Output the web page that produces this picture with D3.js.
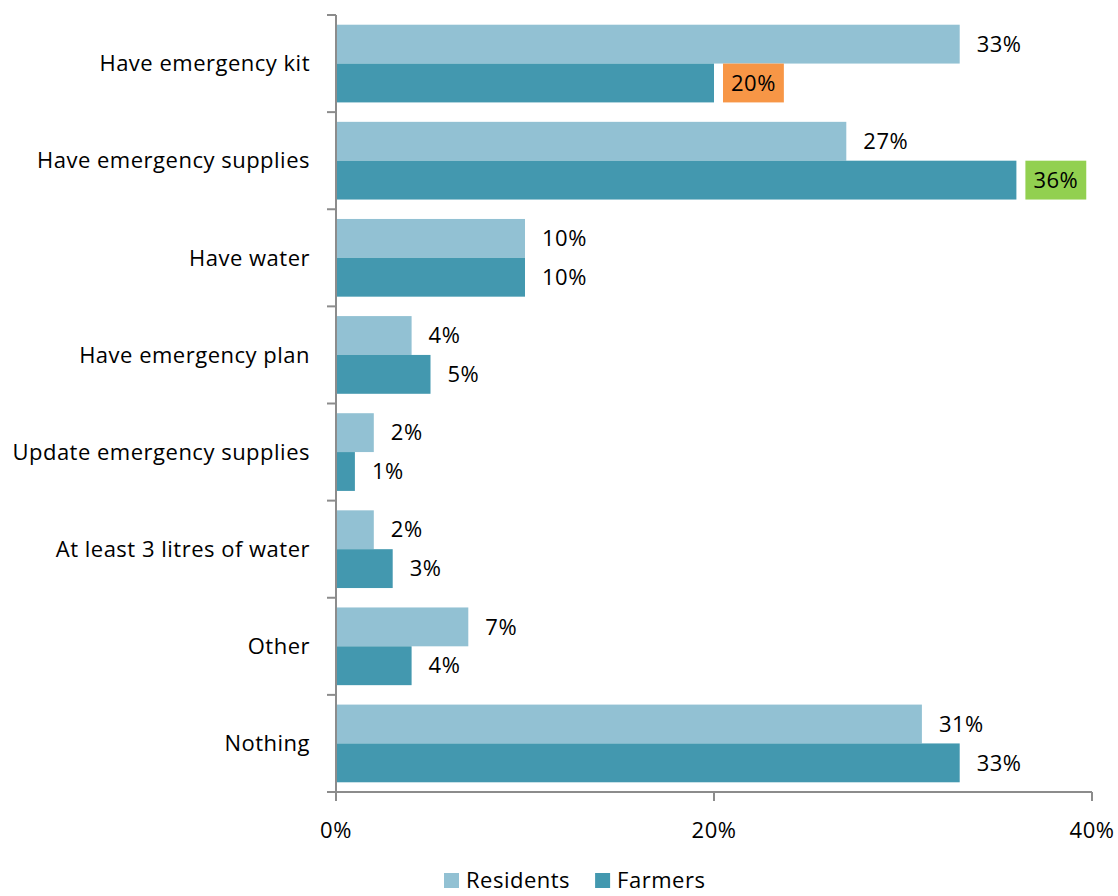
<!DOCTYPE html>
<html>
<head>
<meta charset="utf-8">
<script src="https://cdn.jsdelivr.net/npm/d3@7"></script>
<style>
  html, body { margin: 0; padding: 0; background: #fff; }
  svg text { font-family: "Open Sans", "Noto Sans", sans-serif; fill: #000; letter-spacing: 0.5px; }
</style>
</head>
<body>
<svg id="chart" width="1118" height="896"></svg>
<script>
// Emergency preparedness: share of respondents by action
const categories = [
  "Have emergency kit",
  "Have emergency supplies",
  "Have water",
  "Have emergency plan",
  "Update emergency supplies",
  "At least 3 litres of water",
  "Other",
  "Nothing"
];
const residents = [33, 27, 10, 4, 2, 2, 7, 31];
const farmers   = [20, 36, 10, 5, 1, 3, 4, 33];
const seriesNames = ["Residents", "Farmers"];
const xTicks = [0, 20, 40];
// Highlighted value labels (series index, category index, fill)
const highlights = [
  { s: 1, c: 0, fill: "#F79646" },
  { s: 1, c: 1, fill: "#92D050" }
];

const colors = ["#92C1D3", "#4398AF"];
const svg = d3.select("#chart");
const fontSize = 22;

const x = d3.scaleLinear().domain([0, 40]).range([336, 1092]);
const y = d3.scaleBand().domain(categories).range([15, 792])
  .paddingInner(0.2).paddingOuter(0.1);
const sub = d3.scaleBand().domain([0, 1]).range([0, y.bandwidth()]);

const rows = categories.map((c, i) => ({ c, i, vals: [residents[i], farmers[i]] }));

// Bars
const g = svg.append("g");
rows.forEach(r => {
  r.vals.forEach((v, s) => {
    g.append("rect")
      .attr("x", x(0))
      .attr("y", y(r.c) + sub(s))
      .attr("width", x(v) - x(0))
      .attr("height", sub.bandwidth())
      .attr("fill", colors[s]);
  });
});

// Value labels
rows.forEach(r => {
  r.vals.forEach((v, s) => {
    const cy = y(r.c) + sub(s) + sub.bandwidth() / 2;
    const tx = x(v) + 17;
    const hl = highlights.find(h => h.s === s && h.c === r.i);
    const t = svg.append("text")
      .attr("x", tx)
      .attr("y", cy)
      .attr("dy", "0.35em")
      .attr("font-size", fontSize)
      .text(v + "%");
    if (hl) {
      const w = t.node().getComputedTextLength();
      svg.insert("rect", "text")
        .attr("x", tx - 8)
        .attr("y", y(r.c) + sub(s))
        .attr("width", w + 16)
        .attr("height", sub.bandwidth())
        .attr("fill", hl.fill);
    }
  });
});

// Axes
const axisColor = "#8C8C8C";
const step = y.step();
const y0 = 15;
const axG = svg.append("g").attr("stroke", axisColor).attr("stroke-width", 2).attr("fill", "none");
axG.append("line").attr("x1", x(0)).attr("x2", x(0)).attr("y1", y0).attr("y2", 792);
for (let i = 0; i <= categories.length; i++) {
  const yy = y0 + i * step;
  axG.append("line").attr("x1", x(0) - 9).attr("x2", x(0)).attr("y1", yy).attr("y2", yy);
}
axG.append("line").attr("x1", x(0) - 9).attr("x2", x(40)).attr("y1", 792).attr("y2", 792);
xTicks.forEach(t => {
  axG.append("line").attr("x1", x(t)).attr("x2", x(t)).attr("y1", 792).attr("y2", 801);
});

// Category labels
rows.forEach(r => {
  svg.append("text")
    .attr("x", 310)
    .attr("y", y(r.c) + y.bandwidth() / 2)
    .attr("dy", "0.35em")
    .attr("text-anchor", "end")
    .attr("font-size", fontSize)
    .text(r.c);
});

// X tick labels
xTicks.forEach(t => {
  svg.append("text")
    .attr("x", x(t))
    .attr("y", 830)
    .attr("dy", "0.35em")
    .attr("text-anchor", "middle")
    .attr("font-size", fontSize)
    .text(t + "%");
});

// Legend
const legend = svg.append("g");
let lx = 444;
seriesNames.forEach((name, s) => {
  legend.append("rect").attr("x", lx).attr("y", 873).attr("width", 15).attr("height", 15).attr("fill", colors[s]);
  const t = legend.append("text").attr("x", lx + 22).attr("y", 880).attr("dy", "0.35em")
    .attr("font-size", fontSize).text(name);
  lx += 22 + t.node().getComputedTextLength() + 25;
});
</script>
</body>
</html>
